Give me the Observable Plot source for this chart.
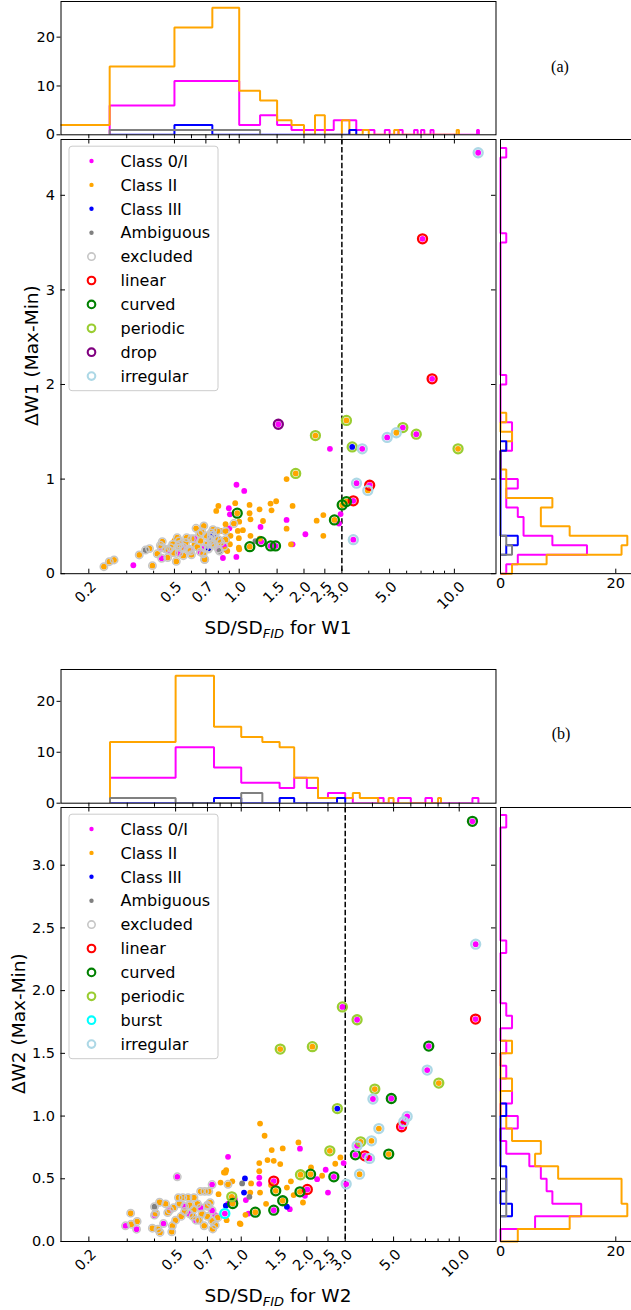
<!DOCTYPE html>
<html><head><meta charset="utf-8">
<script src="https://cdn.jsdelivr.net/npm/d3@7"></script>
<script src="https://cdn.jsdelivr.net/npm/@observablehq/plot@0.6"></script>
<style>
html,body{margin:0;padding:0;background:#fff;overflow:hidden;}
#fig{position:relative;width:631px;height:1310px;overflow:hidden;background:#fff;}
</style></head><body><div id="fig"></div><script>
// ---------------- DATA ----------------
// scatter points: [SD/SD_FID, ΔW (Max-Min), variability type]
// types: "" none, ex excluded, lin linear, cur curved, per periodic, drop drop, bur burst, irr irregular
const a_class0I = [
  [12.9,4.45,"irr"],[7.11,3.54,"lin"],[7.88,2.06,"lin"],[1.52,1.58,"drop"],
  [2.64,1.32,""],[3.73,1.32,"irr"],[4.87,1.44,"irr"],[5.76,1.545,"per"],
  [6.65,1.475,"per"],[3.51,0.957,"irr"],[4.04,0.935,"lin"],[3.39,0.77,"lin"],
  [3.39,0.36,"irr"],[2.96,0.63,""],[2.91,0.53,""],[2.03,0.417,""],
  [1.66,0.568,""],[1.77,0.31,""],[1.256,0.494,""],[1.055,0.875,""],
  [0.971,0.94,""],[0.895,0.692,""],[0.905,0.628,""],[0.97,0.177,""],
  [0.84,0.166,""],[1.265,0.339,"cur"],[1.40,0.293,"cur"],[1.475,0.293,"cur"],
  [0.322,0.089,""],[0.436,0.163,"ex"],[0.525,0.22,"ex"],[0.594,0.24,"ex"],
  [0.74,0.31,"ex"],[0.434,0.275,"ex"],[0.589,0.258,"ex"],[0.75,0.317,"ex"],
  [0.47,0.25,"ex"],[0.55,0.28,"ex"],[0.66,0.23,"ex"],[0.69,0.27,"ex"],
  [0.80,0.26,"ex"],[0.85,0.29,"ex"],[0.90,0.48,""],[0.62,0.37,"ex"],[0.53,0.31,"ex"]
];
const a_classII = [
  [2.26,1.46,"per"],[1.83,1.06,"per"],[3.15,1.62,"per"],[5.37,1.49,"irr"],[10.4,1.32,"per"],
  [3.96,0.88,"irr"],[3.01,0.727,"cur"],[3.15,0.762,"cur"],[2.77,0.568,"cur"],
  [2.46,0.62,""],[2.29,0.56,""],[2.46,0.40,""],[1.77,0.716,""],[1.66,1.0,""],
  [1.66,0.476,""],[1.74,0.31,""],[1.117,0.727,""],[1.117,0.639,""],[1.128,0.575,""],
  [1.243,0.68,""],[1.29,0.557,""],[1.398,0.741,""],[1.413,0.67,""],[1.485,0.766,""],
  [1.12,0.286,"cur"],[0.782,0.663,""],[0.80,0.716,""],[0.958,0.745,""],[0.979,0.64,"cur"],
  [1.0,0.55,""],[0.944,0.53,"ex"],[0.864,0.523,""],[0.819,0.452,""],[0.911,0.40,""],
  [0.985,0.452,""],[0.996,0.375,""],[1.0,0.258,""],[0.905,0.311,""],[0.864,0.258,""],
  [0.692,0.152,"ex"],[1.128,0.40,""],[1.246,0.37,""],[1.04,0.46,""],[0.996,0.275,""],
  [0.235,0.074,"ex"],[0.249,0.127,"ex"],[0.262,0.145,"ex"],[0.343,0.198,"ex"],
  [0.383,0.265,"ex"],[0.395,0.085,"ex"],[0.416,0.21,"ex"],[0.439,0.339,"ex"],
  [0.465,0.17,"ex"],[0.455,0.26,"ex"],[0.48,0.275,"ex"],[0.51,0.13,"ex"],
  [0.515,0.38,"ex"],[0.525,0.346,"ex"],[0.534,0.275,"ex"],[0.497,0.22,"ex"],
  [0.62,0.31,""],[0.655,0.42,"ex"],[0.66,0.346,"ex"],[0.685,0.505,"ex"],
  [0.705,0.40,"ex"],[0.71,0.31,"ex"],[0.69,0.15,"ex"],[0.72,0.26,"ex"],
  [0.755,0.465,"ex"],[0.77,0.38,"ex"],[0.864,0.36,"ex"],[0.864,0.45,"ex"],
  [0.88,0.24,""],[0.565,0.33,"ex"],[0.58,0.25,"ex"],[0.60,0.37,"ex"],
  [0.64,0.28,"ex"],[0.67,0.44,"ex"],[0.74,0.35,"ex"],[0.79,0.45,"ex"],
  [0.82,0.33,"ex"],[0.43,0.30,"ex"],[0.49,0.31,"ex"],[0.55,0.19,"ex"],
  [0.60,0.20,"ex"],[0.68,0.21,"ex"],[0.76,0.30,"ex"],[0.80,0.36,"ex"],
  [0.52,0.29,"ex"],[0.57,0.38,"ex"],[0.50,0.35,""],[0.63,0.48,"ex"],[0.74,0.43,"ex"]
];
const a_classIII = [[3.35,1.34,"per"],[0.74,0.39,"ex"],[0.755,0.41,"ex"],[0.72,0.27,"ex"]];
const a_ambiguous = [[0.367,0.25,"ex"],[0.81,0.24,"ex"],[1.19,0.345,""]];

const b_class0I = [
  [11.5,3.35,"cur"],[11.9,2.37,"irr"],[11.88,1.773,"lin"],[2.91,1.87,"per"],
  [3.40,1.768,"per"],[7.25,1.558,"cur"],[7.13,1.367,"irr"],[4.02,1.136,"irr"],
  [4.88,1.14,"cur"],[5.77,0.997,"irr"],[5.57,0.955,"irr"],[5.44,0.915,"lin"],
  [3.40,0.763,"irr"],[3.34,0.691,"cur"],[3.69,0.683,"lin"],[3.88,0.662,"irr"],
  [3.03,0.458,"irr"],[2.66,0.516,"cur"],[2.95,0.625,""],[2.01,0.415,"lin"],
  [1.41,0.482,"lin"],[1.41,0.25,"cur"],[2.44,0.572,""],[2.23,0.497,""],
  [2.5,0.39,""],[1.96,0.364,""],[1.86,0.74,""],[1.21,0.51,""],[1.21,0.46,""],
  [1.67,0.258,""],[0.87,0.675,""],[1.05,0.33,""],[1.08,0.223,""],[0.841,0.223,"bur"],
  [0.2945,0.125,"ex"],[0.331,0.098,"ex"],[0.44,0.143,"ex"],[0.509,0.516,"ex"],
  [0.651,0.27,"ex"],[0.735,0.454,"ex"],[0.735,0.247,"ex"],[0.55,0.28,"ex"],
  [0.62,0.17,"ex"],[0.935,0.335,""],[0.87,0.30,""],[0.47,0.25,"ex"],
  [0.58,0.22,"ex"],[0.70,0.29,"ex"],[0.40,0.21,"ex"],[0.76,0.21,""]
];
const b_classII = [
  [2.12,1.553,"per"],[1.51,1.534,"per"],[8.06,1.263,"per"],[4.10,1.215,"per"],
  [4.28,0.90,"irr"],[3.53,0.795,"per"],[3.96,0.803,"irr"],[2.55,0.723,"per"],
  [4.75,0.697,"cur"],[3.49,0.537,"irr"],[2.85,0.67,""],[2.08,0.537,"cur"],
  [1.87,0.532,"per"],[1.86,0.396,"cur"],[1.44,0.404,"cur"],[1.55,0.325,"cur"],
  [1.16,0.234,"cur"],[0.905,0.356,"per"],[0.914,0.303,"cur"],[1.22,0.94,""],
  [1.28,0.843,""],[1.38,0.729,""],[1.55,0.742,""],[1.83,0.79,""],[1.51,0.617,""],
  [1.41,0.643,""],[1.32,0.649,""],[1.21,0.625,""],[1.21,0.56,""],[1.11,0.463,""],
  [1.10,0.39,""],[1.22,0.39,""],[1.37,0.45,""],[1.62,0.43,""],[1.69,0.48,""],
  [1.92,0.311,""],[2.09,0.59,""],[2.35,0.524,""],[0.847,0.55,""],[0.91,0.48,""],
  [0.985,0.144,""],[1.046,0.213,""],[0.804,0.47,""],[0.833,0.55,""],[0.853,0.568,""],
  [0.787,0.377,""],[0.857,0.17,""],[0.993,0.139,""],[1.74,0.37,""],[1.30,0.30,""],
  [2.7,0.62,""],
  [0.311,0.226,"ex"],[0.313,0.138,"ex"],[0.333,0.16,"ex"],[0.391,0.106,"ex"],
  [0.405,0.224,"ex"],[0.422,0.313,"ex"],[0.424,0.072,"ex"],[0.415,0.098,"ex"],
  [0.483,0.125,"ex"],[0.48,0.077,"ex"],[0.49,0.27,"ex"],[0.515,0.35,"ex"],
  [0.54,0.35,"ex"],[0.57,0.35,"ex"],[0.607,0.35,"ex"],[0.607,0.256,"ex"],
  [0.651,0.40,"ex"],[0.68,0.40,"ex"],[0.71,0.40,"ex"],[0.676,0.125,"ex"],
  [0.72,0.31,"ex"],[0.735,0.165,"ex"],[0.87,0.456,"ex"],[0.52,0.30,"ex"],
  [0.55,0.24,"ex"],[0.58,0.29,"ex"],[0.53,0.20,"ex"],[0.60,0.20,"ex"],
  [0.63,0.30,"ex"],[0.66,0.22,"ex"],[0.70,0.20,"ex"],[0.70,0.28,"ex"],
  [0.76,0.13,"ex"],[0.78,0.19,"ex"],[0.46,0.23,"ex"],[0.45,0.30,"ex"],
  [0.64,0.17,"ex"],[0.74,0.10,"ex"],[0.50,0.17,"ex"]
];
const b_classIII = [[2.76,1.06,"per"],[1.04,0.503,""],[1.03,0.39,""],[0.85,0.285,""],[1.62,0.277,""]];
const b_ambiguous = [[0.40,0.277,"ex"],[1.01,0.463,""],[1.09,0.356,""]];

// histograms: [bin start, count]; top bins 0.25 wide in SD ratio, right bins 0.1 wide in ΔW
const a_top_class0I = [[0.25,6],[0.5,11],[0.75,11],[1.0,2],[1.25,4],[1.5,2],[1.75,1],[2.0,1],[2.25,1],[2.5,1],[2.75,3],[3.0,3],[3.25,3],[3.5,1],[3.75,1],[4.0,1],[4.75,1],[5.5,1],[6.5,1],[7.0,1],[7.75,1],[12.75,1]];
const a_top_classII = [[0,2],[0.25,14],[0.5,22],[0.75,26],[1.0,9],[1.25,7],[1.5,3],[1.75,2],[2.25,4],[3.0,3],[3.75,1],[5.25,1],[10.25,1]];
const a_top_classIII = [[0.25,0],[0.5,2],[3.25,1]];
const a_top_ambiguous = [[0.25,1],[0.5,1],[0.75,1],[1.0,1]];
const a_right_class0I = [[0,1],[0.1,3],[0.2,15],[0.3,9],[0.4,4],[0.5,4],[0.6,3],[0.7,1],[0.8,1],[0.9,3],[1.3,2],[1.4,2],[1.5,2],[2.0,1],[3.5,1],[4.4,1]];
const a_right_classII = [[0,2],[0.1,8],[0.2,21],[0.3,22],[0.4,12],[0.5,7],[0.6,7],[0.7,9],[0.8,1],[0.9,1],[1.0,1],[1.3,1],[1.4,2],[1.6,1]];
const a_right_classIII = [[0.2,1],[0.3,3],[1.3,1]];
const a_right_ambiguous = [[0.2,2],[0.3,1]];

const b_top_class0I = [[0.25,5],[0.5,11],[0.75,7],[1.0,4],[1.25,4],[1.5,3],[1.75,5],[2.0,3],[2.25,1],[2.5,2],[2.75,2],[3.0,1],[4.25,1],[5.25,1],[5.5,1],[5.75,1],[7.0,1],[7.25,1],[11.5,1],[11.75,1],[12.0,1]];
const b_top_classII = [[0.25,12],[0.5,25],[0.75,15],[1.0,13],[1.25,12],[1.5,11],[1.75,5],[2.0,5],[2.25,1],[2.5,1],[2.75,1],[3.0,1],[3.25,2],[3.5,1],[3.75,1],[4.0,1],[4.75,1],[8.0,1]];
const b_top_classIII = [[0.25,0],[0.75,1],[1.5,1],[2.75,1]];
const b_top_ambiguous = [[0.25,1],[1.0,2]];
const b_right_class0I = [[0,0],[0.1,6],[0.2,14],[0.3,9],[0.4,8],[0.5,7],[0.6,5],[0.7,1],[0.9,3],[1.1,2],[1.3,1],[1.5,1],[1.7,2],[1.8,1],[2.3,1],[3.3,1]];
const b_right_classII = [[0,3],[0.1,12],[0.2,22],[0.3,21],[0.4,21],[0.5,10],[0.6,6],[0.7,7],[0.8,2],[0.9,1],[1.2,2],[1.5,2]];
const b_right_classIII = [[0.2,2],[0.4,1],[0.5,1],[1.0,1]];
const b_right_ambiguous = [[0.2,1],[0.3,1],[0.4,1]];

// ticks and labels
const X_MAJOR = [0.2,0.5,0.7,1,1.5,2,2.5,3,5,10];
const X_LABELS = ["0.2","0.5","0.7","1.0","1.5","2.0","2.5","3.0","5.0","10.0"];
const X_MINOR = [0.3,0.4,0.6,0.8,0.9,4,6,7,8,9];
const A_YTICKS = [0,1,2,3,4], A_YLABELS = ["0","1","2","3","4"];
const B_YTICKS = [0,0.5,1,1.5,2,2.5,3], B_YLABELS = ["0.0","0.5","1.0","1.5","2.0","2.5","3.0"];
const TOP_TICKS = [0,10,20], RIGHT_TICKS = [0,20];
const SD_CUT = 3;
const CLASS_NAMES = ["Class 0/I","Class II","Class III","Ambiguous"];
const A_VAR_NAMES = ["excluded","linear","curved","periodic","drop","irregular"];
const B_VAR_NAMES = ["excluded","linear","curved","periodic","burst","irregular"];

// ---------------- STYLE / LAYOUT ----------------
const CLASS_COLORS = ["#ff00ff","#ffa500","#0000ff","#808080"];
const VAR_KEY = {excluded:"ex",linear:"lin",curved:"cur",periodic:"per",drop:"drop",burst:"bur",irregular:"irr"};
const VAR_COLORS = {ex:"#c6c6c6",lin:"#ff0000",cur:"#008000",per:"#9acd32",drop:"#800080",bur:"#00ffff",irr:"#add8e6"};
const FONT = "DejaVu Sans", FS = 14.5;
const FX0 = 60.5, FX1 = 495.5, RX0 = 499.5, RMAX = 23.1, RPX = 5.765;
const STYLE = {fontFamily: FONT, fontSize: FS + "px", background: "none", overflow: "visible", color: "black"};
const fig = document.getElementById("fig");
function place(el, left, top) {
  el.style.position = "absolute"; el.style.left = left + "px"; el.style.top = top + "px";
  el.style.maxWidth = "none";
  fig.appendChild(el);
}
function steps(list, w) {
  const m = new Map(list.map(([lo, c]) => [Math.round(lo / w), c]));
  const idx = [...m.keys()];
  const i0 = Math.min(...idx), i1 = Math.max(...idx);
  const pts = [{e: i0 * w, c: 0}];
  for (let i = i0; i <= i1; i++) {
    const c = m.get(i) ?? 0;
    pts.push({e: i * w, c}, {e: (i + 1) * w, c});
  }
  pts.push({e: (i1 + 1) * w, c: 0});
  return pts;
}
const LINE = {strokeWidth: 2, strokeLinejoin: "miter", strokeLinecap: "butt"};

function topHist(hists, xDomain, yMax, fTop, fBot) {
  const mt = 3, mb = 8, mr = 6;
  const marks = hists.map((list, i) => Plot.line(steps(list, 0.25),
    {x: d => Math.max(d.e, 0.01), y: d => d.c, stroke: CLASS_COLORS[i], clip: true, ...LINE}));
  marks.push(Plot.frame({stroke: "black", strokeWidth: 1}));
  marks.push(Plot.axisY({ticks: TOP_TICKS, tickSize: 4, tickPadding: 2, label: null}));
  marks.push(Plot.axisX({ticks: [...X_MAJOR, ...X_MINOR], tickSize: 4, tickFormat: () => "", label: null}));
  const svg = Plot.plot({
    width: FX1 + mr, height: fBot - fTop + mt + mb,
    marginLeft: FX0, marginRight: mr, marginTop: mt, marginBottom: mb,
    x: {type: "log", domain: xDomain, label: null}, y: {domain: [0, yMax], label: null},
    style: STYLE, marks
  });
  place(svg, 0, fTop - mt);
}

function mainPlot(classes, xDomain, yMax, yTicks, yLabels, fTop, fBot) {
  const mt = 2, mb = 54, mr = 6;
  const H = fBot - fTop, Wf = FX1 - FX0;
  const all = classes.flat();
  const X = d => d[0], Y = d => d[1];
  const marks = [Plot.ruleX([SD_CUT], {stroke: "black", strokeWidth: 1.5, strokeDasharray: "5.5,2.4"})];
  classes.forEach((arr, i) => marks.push(Plot.dot(arr, {x: X, y: Y, r: 2.9, fill: CLASS_COLORS[i], stroke: "none"})));
  marks.push(Plot.dot(all.filter(d => d[2] === "ex"), {x: X, y: Y, r: 3.7, fill: "none", stroke: VAR_COLORS.ex, strokeWidth: 1.5}));
  for (const v of ["lin","cur","per","drop","bur","irr"]) {
    const sub = all.filter(d => d[2] === v);
    if (sub.length) marks.push(Plot.dot(sub, {x: X, y: Y, r: 4.5, fill: "none", stroke: VAR_COLORS[v], strokeWidth: 2.3}));
  }
  marks.push(Plot.frame({stroke: "black", strokeWidth: 1}));
  marks.push(Plot.axisY({ticks: yTicks, tickSize: 0, tickPadding: 6, tickFormat: d => yLabels[yTicks.indexOf(d)], label: null}));
  marks.push(Plot.tickY(yTicks, {y: d => d, insetRight: Wf - 4.5, stroke: "black"}));
  marks.push(Plot.tickY(yTicks, {y: d => d, insetLeft: Wf - 4.5, stroke: "black"}));
  marks.push(Plot.tickX(X_MAJOR, {x: d => d, insetTop: H - 4.5, stroke: "black"}));
  marks.push(Plot.tickX(X_MINOR, {x: d => d, insetTop: H - 2.5, stroke: "black"}));
  marks.push(Plot.tickX(X_MAJOR, {x: d => d, insetBottom: H - 4.5, stroke: "black"}));
  X_LABELS.forEach((lab, i) => {
    const w = [...lab].reduce((s, ch) => s + (ch === "." ? 0.318 : 0.636), 0) * FS;
    const h = 1.164 * FS;
    marks.push(Plot.text([X_MAJOR[i]], {x: d => d, text: () => lab, frameAnchor: "bottom",
      rotate: -45, textAnchor: "middle", dy: 7.8 + 0.3536 * (w + h), fontSize: FS, fill: "black"}));
  });
  const svg = Plot.plot({
    width: FX1 + mr, height: H + mt + mb,
    marginLeft: FX0, marginRight: mr, marginTop: mt, marginBottom: mb,
    x: {type: "log", domain: xDomain, axis: null, label: null},
    y: {domain: [0, yMax], label: null},
    style: STYLE, marks
  });
  place(svg, 0, fTop - mt);
}

function rightHist(hists, yMax, fTop, fBot) {
  const ml = 10, mr = 2, mt = 2, mb = 28;
  const H = fBot - fTop, Wf = RMAX * RPX;
  const marks = hists.map((list, i) => Plot.line(steps(list, 0.1),
    {x: d => d.c, y: d => d.e, stroke: CLASS_COLORS[i], ...LINE}));
  marks.push(Plot.frame({stroke: "black", strokeWidth: 1}));
  marks.push(Plot.axisX({ticks: RIGHT_TICKS, tickSize: 0, tickPadding: 4, label: null}));
  marks.push(Plot.tickX(RIGHT_TICKS, {x: d => d, insetTop: H - 4.5, stroke: "black"}));
  const svg = Plot.plot({
    width: ml + Wf + mr, height: H + mt + mb,
    marginLeft: ml, marginRight: mr, marginTop: mt, marginBottom: mb,
    x: {domain: [0, RMAX], label: null}, y: {domain: [0, yMax], axis: null, label: null},
    style: STYLE, marks
  });
  place(svg, RX0 - ml, fTop - mt);
}

// ---------------- PANELS ----------------
const A = {top: [1, 134.3], main: [138.5, 572.7], xdom: [0.1485, 15.61], ymax: 4.59, topMax: 27.3};
const B = {top: [669.3, 803], main: [806.7, 1240.7], xdom: [0.149, 14.75], ymax: 3.46, topMax: 26.25};

topHist([a_top_class0I, a_top_classII, a_top_classIII, a_top_ambiguous], A.xdom, A.topMax, ...A.top);
mainPlot([a_class0I, a_classII, a_classIII, a_ambiguous], A.xdom, A.ymax, A_YTICKS, A_YLABELS, ...A.main);
rightHist([a_right_class0I, a_right_classII, a_right_classIII, a_right_ambiguous], A.ymax, ...A.main);

topHist([b_top_class0I, b_top_classII, b_top_classIII, b_top_ambiguous], B.xdom, B.topMax, ...B.top);
mainPlot([b_class0I, b_classII, b_classIII, b_ambiguous], B.xdom, B.ymax, B_YTICKS, B_YLABELS, ...B.main);
rightHist([b_right_class0I, b_right_classII, b_right_classIII, b_right_ambiguous], B.ymax, ...B.main);

// ---------------- OVERLAY: labels, legends, panel tags ----------------
const ov = d3.create("svg").attr("width", 631).attr("height", 1310)
  .style("position", "absolute").style("left", "0px").style("top", "0px")
  .style("font-family", FONT).style("overflow", "visible");

function xTitle(y, band) {
  const t = ov.append("text").attr("x", (FX0 + FX1) / 2).attr("y", y).attr("text-anchor", "middle")
    .attr("font-size", 18.5).attr("fill", "black");
  t.append("tspan").text("SD/SD");
  t.append("tspan").attr("font-size", 13).attr("font-style", "italic").attr("dy", 4).text("FID");
  t.append("tspan").attr("dy", -4).text(" for " + band);
}
function yTitle(x, cy, band) {
  ov.append("text").attr("transform", `translate(${x},${cy}) rotate(-90)`).attr("text-anchor", "middle")
    .attr("font-size", 18.5).attr("fill", "black").text("ΔW" + band.slice(1) + " (Max-Min)");
}
function tag(cx, cy, s) {
  ov.append("text").attr("x", cx).attr("y", cy + 5.5).attr("text-anchor", "middle")
    .attr("font-family", "Liberation Serif").attr("font-size", 16).attr("fill", "black").text(s);
}
function legend(x0, y0, varNames) {
  const names = [...CLASS_NAMES, ...varNames];
  const g = ov.append("g").attr("transform", `translate(${x0},${y0})`);
  g.append("rect").attr("x", 0.5).attr("y", 0.5).attr("width", 149).attr("height", names.length * 23.9 + 5.5)
    .attr("rx", 3).attr("fill", "white").attr("fill-opacity", 0.8).attr("stroke", "#cccccc");
  names.forEach((n, i) => {
    const cy = 15.3 + 23.9 * i;
    if (i < 4) g.append("circle").attr("cx", 23).attr("cy", cy).attr("r", 2.2).attr("fill", CLASS_COLORS[i]);
    else {
      const k = VAR_KEY[n];
      g.append("circle").attr("cx", 23).attr("cy", cy).attr("r", k === "ex" ? 3.7 : 3.8)
        .attr("fill", "none").attr("stroke", VAR_COLORS[k]).attr("stroke-width", k === "ex" ? 1.6 : 2.1);
    }
    g.append("text").attr("x", 52).attr("y", cy + 5.8).attr("font-size", 16).attr("fill", "black").text(n);
  });
}

xTitle(A.main[1] + 61, "W1");
yTitle(38, (A.main[0] + A.main[1]) / 2, "W1");
xTitle(B.main[1] + 61, "W2");
yTitle(24.5, (B.main[0] + B.main[1]) / 2, "W2");
tag(560, 66, "(a)");
tag(561, 733, "(b)");
legend(68.5, 145.7, A_VAR_NAMES);
legend(68.5, 813.7, B_VAR_NAMES);
fig.appendChild(ov.node());
</script></body></html>
